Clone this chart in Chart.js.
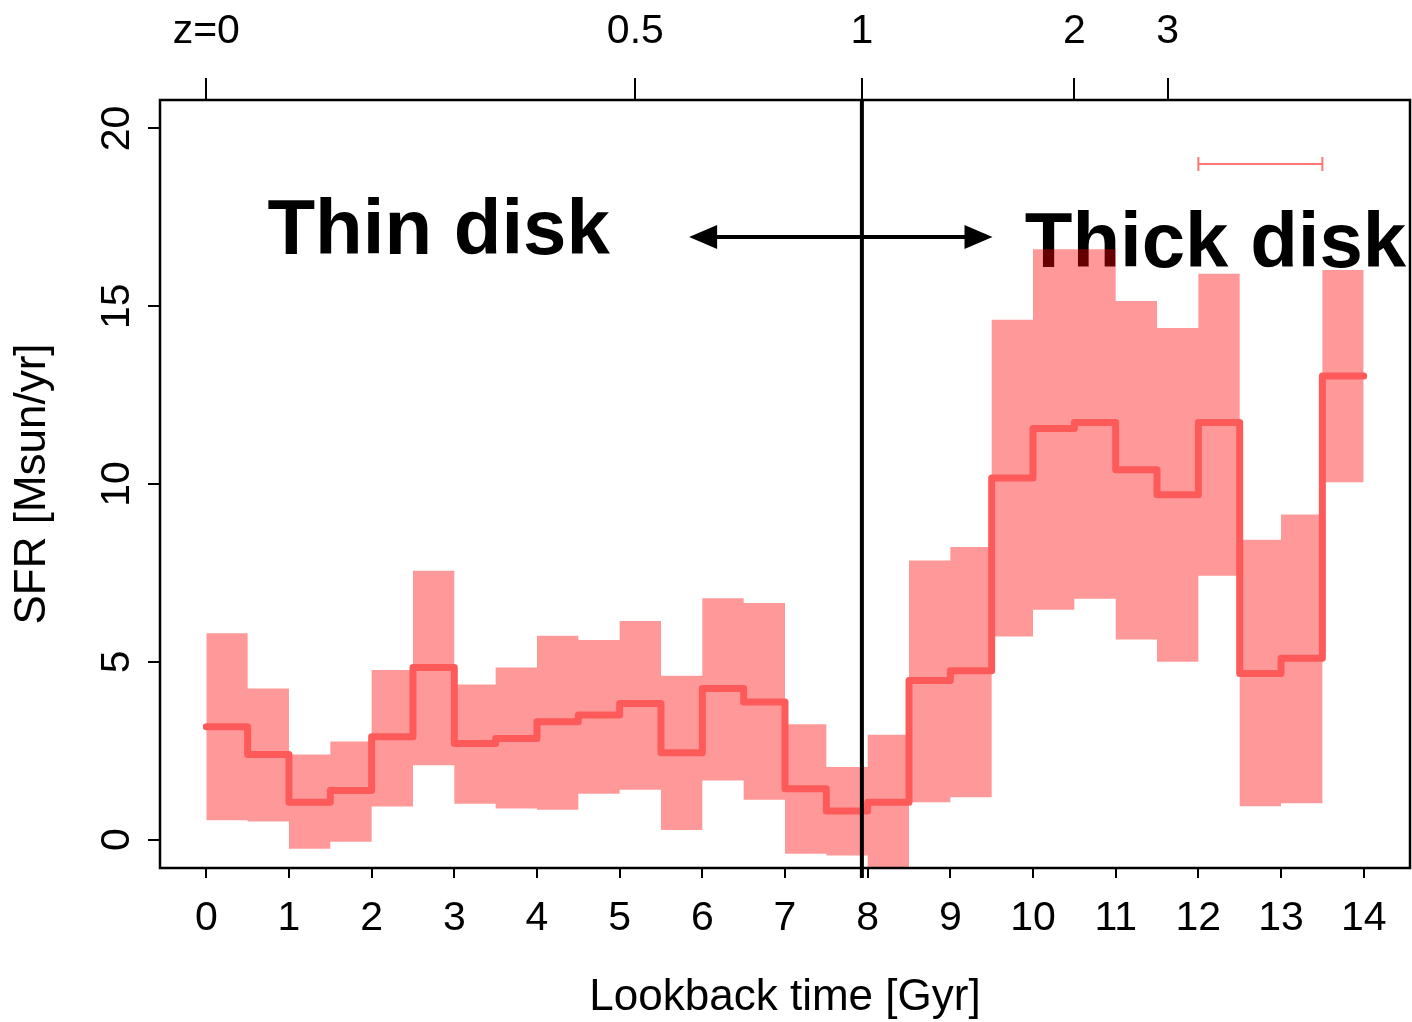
<!DOCTYPE html>
<html>
<head>
<meta charset="utf-8">
<title>SFR vs lookback time</title>
<script src="https://cdn.jsdelivr.net/npm/chart.js@4.4.1/dist/chart.umd.min.js"></script>
<style>
    body { margin: 0; background: #fff; }
    canvas { display: block; }
</style>
</head>
<body>
<canvas id="sfrChart" width="1412" height="1022"></canvas>
<script>
// data //
const binEdges = [0, 0.5, 1, 1.5, 2, 2.5, 3, 3.5, 4, 4.5, 5, 5.5, 6, 6.5, 7, 7.5, 8, 8.5, 9, 9.5, 10, 10.5, 11, 11.5, 12, 12.5, 13, 13.5, 14];
const sfrMedian = [3.17, 2.39, 1.05, 1.38, 2.89, 4.84, 2.70, 2.84, 3.31, 3.50, 3.83, 2.44, 4.25, 3.87, 1.43, 0.80, 1.05, 4.47, 4.75, 10.17, 11.56, 11.73, 10.40, 9.70, 11.73, 4.67, 5.10, 13.04];
const sfrUpper = [5.80, 4.25, 2.39, 2.76, 4.77, 7.56, 4.36, 4.84, 5.73, 5.61, 6.15, 4.61, 6.79, 6.65, 3.24, 2.04, 2.95, 7.85, 8.23, 14.62, 16.60, 16.60, 15.15, 14.39, 15.91, 8.43, 9.14, 16.02];
const sfrLower = [0.54, 0.51, -0.26, -0.06, 0.93, 2.09, 1.01, 0.87, 0.84, 1.29, 1.40, 0.27, 1.66, 1.12, -0.40, -0.45, -1.50, 1.05, 1.19, 5.71, 6.46, 6.77, 5.63, 5.00, 7.42, 0.94, 1.02, 10.05];

const xTicks = [0, 1, 2, 3, 4, 5, 6, 7, 8, 9, 10, 11, 12, 13, 14];
const yTicks = [0, 5, 10, 15, 20];
const zTickTimes = [0, 5.19, 7.93, 10.50, 11.63];
const zTickLabels = ['z=0', '0.5', '1', '2', '3'];

const zOneTime = 7.93;              // divider line thin / thick disk
const arrowTimes = [5.84, 9.51];
const arrowSfr = 16.95;
const errBarTimes = [12, 13.5];
const errBarSfr = 19.0;
const diskLabels = ['Thin disk', 'Thick disk'];
const diskLabelTimes = [0.74, 9.90];
const diskLabelSfr = [16.47, 16.11];

// steps: every bin value held until next edge //
function toSteps(values) {
    return binEdges.map((x, i) => ({ x: x, y: values[Math.min(i, values.length - 1)] }));
}

Chart.defaults.font.family = "'Liberation Sans', Arial, Helvetica, sans-serif";
Chart.defaults.color = '#000';

// extra drawing: box, divider, arrow, labels, error bar //
const annotations = {
    id: 'annotations',
    beforeDatasetsDraw(chart) {
        const ctx = chart.ctx;
        const xs = chart.scales.x;
        const ys = chart.scales.y;
        ctx.save();
        ctx.fillStyle = '#000';
        ctx.font = "bold 78px 'Liberation Sans', Arial, sans-serif";
        ctx.textBaseline = 'alphabetic';
        ctx.textAlign = 'left';
        diskLabels.forEach((t, i) => {
            ctx.fillText(t, xs.getPixelForValue(diskLabelTimes[i]), ys.getPixelForValue(diskLabelSfr[i]));
        });
        ctx.restore();
    },
    afterDatasetsDraw(chart) {
        const ctx = chart.ctx;
        const area = chart.chartArea;
        const xs = chart.scales.x;
        const ys = chart.scales.y;
        ctx.save();

        // vertical line at z=1
        const xz = xs.getPixelForValue(zOneTime);
        ctx.strokeStyle = '#000';
        ctx.lineWidth = 4;
        ctx.beginPath();
        ctx.moveTo(xz, area.top);
        ctx.lineTo(xz, area.bottom + 10);
        ctx.stroke();

        // double arrow
        const ax1 = xs.getPixelForValue(arrowTimes[0]);
        const ax2 = xs.getPixelForValue(arrowTimes[1]);
        const ay = ys.getPixelForValue(arrowSfr);
        ctx.lineWidth = 4;
        ctx.beginPath();
        ctx.moveTo(ax1 + 20, ay);
        ctx.lineTo(ax2 - 20, ay);
        ctx.stroke();
        ctx.fillStyle = '#000';
        ctx.beginPath();
        ctx.moveTo(ax1, ay);
        ctx.lineTo(ax1 + 28, ay - 12);
        ctx.lineTo(ax1 + 28, ay + 12);
        ctx.closePath();
        ctx.fill();
        ctx.beginPath();
        ctx.moveTo(ax2, ay);
        ctx.lineTo(ax2 - 28, ay - 12);
        ctx.lineTo(ax2 - 28, ay + 12);
        ctx.closePath();
        ctx.fill();

        // error bar
        const ex1 = xs.getPixelForValue(errBarTimes[0]);
        const ex2 = xs.getPixelForValue(errBarTimes[1]);
        const ey = ys.getPixelForValue(errBarSfr);
        ctx.strokeStyle = 'rgba(255, 60, 60, 0.7)';
        ctx.lineWidth = 2;
        ctx.beginPath();
        ctx.moveTo(ex1, ey);
        ctx.lineTo(ex2, ey);
        ctx.moveTo(ex1, ey - 7);
        ctx.lineTo(ex1, ey + 7);
        ctx.moveTo(ex2, ey - 7);
        ctx.lineTo(ex2, ey + 7);
        ctx.stroke();

        // plot box
        ctx.strokeStyle = '#000';
        ctx.lineWidth = 2.5;
        ctx.strokeRect(area.left, area.top, area.right - area.left, area.bottom - area.top);
        ctx.restore();
    }
};

const tickGrid = (len) => ({
    drawOnChartArea: false,
    drawTicks: true,
    tickLength: len,
    color: '#000',
    lineWidth: 2
});

const ctx = document.getElementById('sfrChart').getContext('2d');
const sfrChart = new Chart(ctx, {
    type: 'line',
    data: {
        datasets: [{
            label: 'SFR',
            data: toSteps(sfrMedian),
            stepped: true,
            borderColor: '#ff5a5a',
            borderWidth: 7,
            borderCapStyle: 'round',
            borderJoinStyle: 'round',
            pointRadius: 0,
            fill: false
        }, {
            label: 'upper',
            data: toSteps(sfrUpper),
            stepped: true,
            borderColor: 'transparent',
            borderWidth: 0,
            pointRadius: 0,
            fill: false
        }, {
            label: 'lower',
            data: toSteps(sfrLower),
            stepped: true,
            borderColor: 'transparent',
            borderWidth: 0,
            pointRadius: 0,
            backgroundColor: 'rgba(255, 0, 0, 0.4)',
            fill: '-1'
        }]
    },
    options: {
        responsive: false,
        animation: false,
        layout: { padding: { left: 0, right: 2, top: 0, bottom: 0 } },
        plugins: {
            legend: { display: false },
            tooltip: { enabled: false }
        },
        scales: {
            x: {
                type: 'linear',
                position: 'bottom',
                min: -0.56,
                max: 14.56,
                afterBuildTicks: (s) => { s.ticks = xTicks.map(v => ({ value: v })); },
                afterFit: (s) => { s.height = 154; },
                grid: tickGrid(10),
                border: { display: true, color: '#000', width: 2 },
                ticks: { font: { size: 41 }, padding: 16, maxRotation: 0, autoSkip: false },
                title: { display: true, text: 'Lookback time [Gyr]', font: { size: 44, lineHeight: 1.1 }, padding: { top: 0, bottom: 0 } }
            },
            xTop: {
                type: 'linear',
                position: 'top',
                min: -0.56,
                max: 14.56,
                afterBuildTicks: (s) => { s.ticks = zTickTimes.map(v => ({ value: v })); },
                afterFit: (s) => { s.height = 100; },
                grid: tickGrid(22),
                border: { display: true, color: '#000', width: 2 },
                ticks: {
                    font: { size: 41 },
                    padding: 22,
                    maxRotation: 0,
                    autoSkip: false,
                    callback: (v, i) => zTickLabels[i]
                }
            },
            y: {
                type: 'linear',
                position: 'left',
                min: -0.8,
                max: 20.8,
                afterBuildTicks: (s) => { s.ticks = yTicks.map(v => ({ value: v })); },
                afterFit: (s) => { s.width = 160; },
                grid: tickGrid(12),
                border: { display: true, color: '#000', width: 2 },
                ticks: { font: { size: 41 }, padding: 8, minRotation: 90, maxRotation: 90, crossAlign: 'center' },
                title: { display: true, text: 'SFR [Msun/yr]', font: { size: 44 }, padding: { top: 6, bottom: 0 } }
            }
        }
    },
    plugins: [annotations]
});
</script>
</body>
</html>
